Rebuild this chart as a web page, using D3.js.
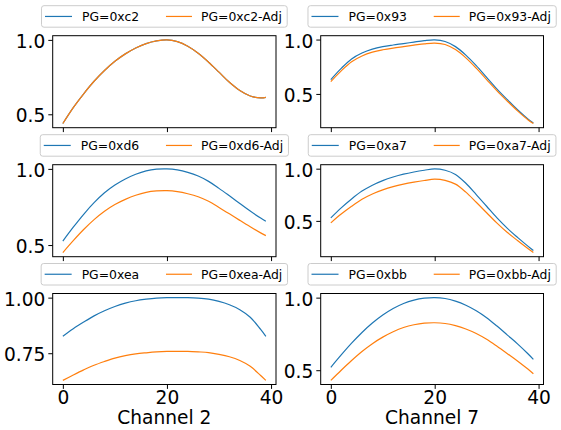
<!DOCTYPE html>
<html>
<head>
<meta charset="utf-8">
<script src="https://cdn.jsdelivr.net/npm/d3@7"></script>
<style>
  html, body { margin: 0; padding: 0; background: #fff; }
  svg { display: block; font-family: "DejaVu Sans", sans-serif; }
</style>
</head>
<body>
<svg id="chart" width="561" height="430"></svg>
<script>
// ---- data ----
const channels = [0, 2, 4, 6, 8, 10, 12, 14, 16, 18, 20, 22, 24, 26, 28, 30, 32, 34, 36, 38, 39];

const pg_c2     = [0.438, 0.545, 0.638, 0.722, 0.794, 0.856, 0.906, 0.946, 0.975, 0.993, 1.000, 0.988, 0.957, 0.910, 0.850, 0.783, 0.715, 0.660, 0.623, 0.610, 0.614];
const pg_c2_adj = [0.438, 0.545, 0.638, 0.722, 0.794, 0.856, 0.906, 0.946, 0.975, 0.993, 1.000, 0.988, 0.957, 0.910, 0.850, 0.783, 0.715, 0.660, 0.623, 0.610, 0.614];

const pg_93     = [0.632, 0.735, 0.822, 0.876, 0.912, 0.935, 0.950, 0.963, 0.977, 0.990, 0.997, 0.982, 0.935, 0.857, 0.760, 0.652, 0.545, 0.447, 0.352, 0.268, 0.233];
const pg_93_adj = [0.613, 0.712, 0.796, 0.849, 0.884, 0.906, 0.922, 0.935, 0.948, 0.961, 0.968, 0.955, 0.908, 0.832, 0.737, 0.632, 0.528, 0.433, 0.342, 0.261, 0.228];

const pg_d6     = [0.526, 0.617, 0.702, 0.778, 0.843, 0.894, 0.934, 0.965, 0.987, 0.998, 1.000, 0.993, 0.977, 0.953, 0.918, 0.872, 0.823, 0.773, 0.723, 0.677, 0.656];
const pg_d6_adj = [0.451, 0.529, 0.602, 0.667, 0.722, 0.766, 0.800, 0.827, 0.846, 0.855, 0.857, 0.851, 0.837, 0.817, 0.787, 0.747, 0.705, 0.662, 0.620, 0.580, 0.562];

const pg_a7     = [0.529, 0.625, 0.710, 0.785, 0.842, 0.886, 0.920, 0.947, 0.968, 0.985, 0.998, 0.985, 0.945, 0.860, 0.752, 0.640, 0.528, 0.428, 0.340, 0.256, 0.216];
const pg_a7_adj = [0.481, 0.565, 0.640, 0.707, 0.758, 0.797, 0.828, 0.852, 0.871, 0.887, 0.899, 0.888, 0.852, 0.775, 0.678, 0.578, 0.478, 0.388, 0.310, 0.234, 0.197];

const pg_ea     = [0.826, 0.860, 0.890, 0.918, 0.941, 0.960, 0.975, 0.986, 0.993, 0.998, 1.000, 1.000, 1.000, 0.998, 0.993, 0.983, 0.968, 0.946, 0.912, 0.857, 0.826];
const pg_ea_adj = [0.628, 0.652, 0.675, 0.696, 0.713, 0.728, 0.739, 0.747, 0.752, 0.756, 0.758, 0.758, 0.758, 0.756, 0.753, 0.745, 0.734, 0.717, 0.691, 0.650, 0.628];

const pg_bb     = [0.520, 0.605, 0.686, 0.760, 0.825, 0.880, 0.925, 0.960, 0.983, 0.996, 1.000, 0.994, 0.976, 0.948, 0.910, 0.862, 0.804, 0.742, 0.680, 0.612, 0.575];
const pg_bb_adj = [0.430, 0.500, 0.567, 0.629, 0.683, 0.728, 0.765, 0.794, 0.813, 0.824, 0.827, 0.822, 0.807, 0.784, 0.753, 0.713, 0.665, 0.614, 0.562, 0.506, 0.476];

const pgNames   = ["0xc2", "0x93", "0xd6", "0xa7", "0xea", "0xbb"];
const seriesRaw = [pg_c2, pg_93, pg_d6, pg_a7, pg_ea, pg_bb];
const seriesAdj = [pg_c2_adj, pg_93_adj, pg_d6_adj, pg_a7_adj, pg_ea_adj, pg_bb_adj];

const yTickValues = [[0.5, 1.0], [0.5, 1.0], [0.5, 1.0], [0.5, 1.0], [0.75, 1.0], [0.5, 1.0]];
const yTickFormats = [".1f", ".1f", ".1f", ".1f", ".2f", ".1f"];
const xTickValues = [0, 20, 40];
const xLabels = ["Channel 2", "Channel 7"];

// ---- layout ----
const colLeft = [52.7, 320.7];
const colRight = [276, 543.5];
const rowTop = [35.7, 164.7, 293.5];
const rowBottom = [127.7, 256.7, 384.5];
const blue = "#1f77b4", orange = "#ff7f0e";
const tickFont = 18.6, legendFont = 12.4;

const svg = d3.select("#chart");

pgNames.forEach((name, i) => {
  const col = i % 2, row = Math.floor(i / 2);
  const x0 = colLeft[col], x1 = colRight[col];
  const y0 = rowTop[row], y1 = rowBottom[row];

  const xMin = d3.min(channels), xMax = d3.max(channels);
  const xm = (xMax - xMin) * 0.05;
  const x = d3.scaleLinear().domain([xMin - xm, xMax + xm]).range([x0, x1]);

  const all = seriesRaw[i].concat(seriesAdj[i]);
  const yMin = d3.min(all), yMax = d3.max(all);
  const ym = (yMax - yMin) * 0.05;
  const y = d3.scaleLinear().domain([yMin - ym, yMax + ym]).range([y1, y0]);

  const g = svg.append("g");

  const clipId = "clip" + i;
  g.append("clipPath").attr("id", clipId)
    .append("rect").attr("x", x0).attr("y", y0).attr("width", x1 - x0).attr("height", y1 - y0);

  const line = d3.line()
    .x((d, k) => x(channels[k]))
    .y(d => y(d))
    .curve(d3.curveCatmullRom.alpha(0.5));

  const lines = g.append("g").attr("clip-path", `url(#${clipId})`);
  lines.append("path").datum(seriesRaw[i])
    .attr("d", line).attr("fill", "none").attr("stroke", blue).attr("stroke-width", 1.2);
  lines.append("path").datum(seriesAdj[i])
    .attr("d", line).attr("fill", "none").attr("stroke", orange).attr("stroke-width", 1.2);

  // axes
  const xAxis = d3.axisBottom(x).tickValues(xTickValues).tickSize(4.4).tickPadding(2)
    .tickFormat(row === 2 ? d3.format("d") : () => "");
  const gx = g.append("g").attr("transform", `translate(0,${y1})`).call(xAxis);
  gx.select(".domain").remove();
  gx.selectAll("line").attr("stroke", "#000").attr("stroke-width", 1);
  gx.selectAll("text").attr("font-size", tickFont).attr("fill", "#000")
    .attr("font-family", "DejaVu Sans");

  const yAxis = d3.axisLeft(y).tickValues(yTickValues[i]).tickSize(4.4).tickPadding(3)
    .tickFormat(d3.format(yTickFormats[i]));
  const gy = g.append("g").attr("transform", `translate(${x0},0)`).call(yAxis);
  gy.select(".domain").remove();
  gy.selectAll("line").attr("stroke", "#000").attr("stroke-width", 1);
  gy.selectAll("text").attr("font-size", tickFont).attr("fill", "#000")
    .attr("font-family", "DejaVu Sans").attr("dy", "0.4em");

  // spines
  g.append("rect").attr("x", x0).attr("y", y0).attr("width", x1 - x0).attr("height", y1 - y0)
    .attr("fill", "none").attr("stroke", "#000").attr("stroke-width", 1);

  if (row === 2) {
    g.append("text").attr("x", (x0 + x1) / 2).attr("y", 423.5)
      .attr("text-anchor", "middle").attr("font-size", tickFont).attr("fill", "#000")
      .text(xLabels[col]);
  }

  // legend
  const lg = svg.append("g");
  const boxH = 21.5;
  const mid = boxH / 2;
  const box = lg.append("rect").attr("y", 0).attr("height", boxH).attr("rx", 2.5)
    .attr("fill", "#fff").attr("fill-opacity", 0.8).attr("stroke", "#cccccc").attr("stroke-width", 1);
  lg.append("line").attr("x1", 3.5).attr("x2", 30.5).attr("y1", mid).attr("y2", mid)
    .attr("stroke", blue).attr("stroke-width", 1.2);
  const t1 = lg.append("text").attr("x", 40.5).attr("y", mid + 4.5)
    .attr("font-size", legendFont).attr("fill", "#000").text("PG=" + name);
  const w1 = t1.node().getComputedTextLength();
  const h2 = 40.5 + w1 + 26.8;
  lg.append("line").attr("x1", h2).attr("x2", h2 + 26).attr("y1", mid).attr("y2", mid)
    .attr("stroke", orange).attr("stroke-width", 1.2);
  const t2 = lg.append("text").attr("x", h2 + 35).attr("y", mid + 4.5)
    .attr("font-size", legendFont).attr("fill", "#000").text("PG=" + name + "-Adj");
  const w2 = t2.node().getComputedTextLength();
  const W = h2 + 35 + w2 + 5.3;
  box.attr("x", 0).attr("width", W);
  const bx = (x0 + x1) / 2 - W / 2;
  lg.attr("transform", `translate(${bx},${y0 - 30})`);
});
</script>
</body>
</html>
